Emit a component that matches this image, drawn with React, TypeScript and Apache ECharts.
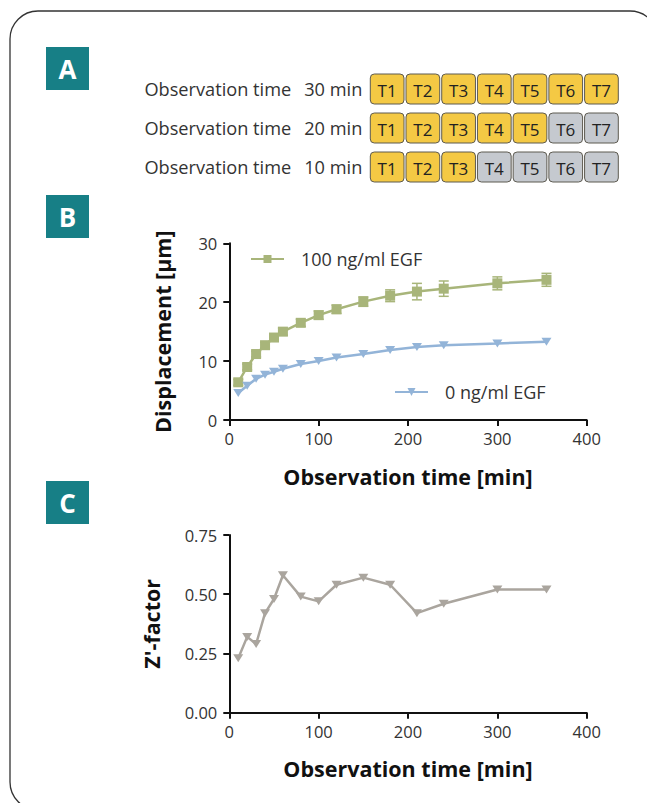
import React, { useEffect, useRef } from "react";
import * as echarts from "echarts";

// Panel A schematic
const boxLabels = ["T1", "T2", "T3", "T4", "T5", "T6", "T7"];
const observationTimes = ["30 min", "20 min", "10 min"];
const imagedBoxes = [7, 5, 3];

// Panel B / C data
const times = [10, 20, 30, 40, 50, 60, 80, 100, 120, 150, 180, 210, 240, 300, 355];
const egf100 = [6.4, 9.0, 11.2, 12.7, 14.0, 15.0, 16.5, 17.8, 18.8, 20.1, 21.1, 21.8, 22.3, 23.2, 23.8];
const egf100Err = [0.5, 0.5, 0.5, 0.5, 0.5, 0.6, 0.6, 0.7, 0.7, 0.8, 1.0, 1.4, 1.3, 1.1, 1.1];
const egf0 = [4.6, 5.8, 7.0, 7.7, 8.2, 8.7, 9.5, 10.0, 10.6, 11.2, 11.9, 12.4, 12.7, 13.0, 13.3];
const zFactor = [0.23, 0.32, 0.29, 0.42, 0.48, 0.58, 0.49, 0.47, 0.54, 0.57, 0.54, 0.42, 0.46, 0.52, 0.52];

const xTicks = [0, 100, 200, 300, 400];
const dispTicks = [0, 10, 20, 30];
const zTicks = [0, 0.25, 0.5, 0.75];

const FONT = "Open Sans";
const GREEN = "#a8b57a";
const BLUE = "#93b4d8";
const GRAY = "#aaa59e";
const TEAL = "#177f86";
const YELLOW = "#f4c944";
const LIGHTGRAY = "#c5c9cf";

export default function App() {
  const ref = useRef<HTMLDivElement>(null);
  useEffect(() => {
    if (!ref.current) return;
    const chart = echarts.init(ref.current, null, { renderer: "svg" });

    const boxData: any[] = [];
    observationTimes.forEach((_, r) => {
      boxLabels.forEach((_, c) => {
        boxData.push([c, r, c < imagedBoxes[r] ? 1 : 0]);
      });
    });

    const axisCommon = {
      axisLine: { show: true, lineStyle: { color: "#111", width: 2 } },
      axisTick: { show: true, length: 6, lineStyle: { color: "#111", width: 2 } },
      splitLine: { show: false },
      axisLabel: { fontFamily: FONT, fontSize: 16.5, color: "#333" },
      nameTextStyle: { fontFamily: FONT, fontSize: 21.5, fontWeight: "bold", color: "#111" },
    };

    const letter = (ch: string, top: number) => ({
      type: "group",
      left: 46,
      top,
      children: [
        { type: "rect", shape: { x: 0, y: 0, width: 43, height: 43 }, style: { fill: TEAL } },
        {
          type: "text",
          x: 21.5,
          y: 22,
          style: { text: ch, fill: "#fff", font: `bold 26px "${FONT}"`, align: "center", verticalAlign: "middle" },
        },
      ],
    });

    const legendText = { fontFamily: FONT, fontSize: 18, color: "#333", padding: [0, 0, 0, 12], lineHeight: 20 };

    const option: any = {
      animation: false,
      backgroundColor: "#fff",
      textStyle: { fontFamily: FONT },
      graphic: [
        {
          type: "rect",
          shape: { x: 10, y: 11, width: 648, height: 799, r: 28 },
          style: { fill: "none", stroke: "#333", lineWidth: 1.3 },
          silent: true,
        },
        letter("A", 47),
        letter("B", 195),
        letter("C", 481),
      ],
      grid: [
        { left: 369.3, top: 69.5, width: 250, height: 117 },
        { left: 229.3, top: 243.3, width: 357.4, height: 176.7 },
        { left: 229.3, top: 535, width: 357.4, height: 177.7 },
      ],
      legend: [
        {
          data: [{ name: "100 ng/ml EGF" }],
          left: 250,
          top: 249,
          padding: 0,
          itemWidth: 33,
          itemHeight: 10,
          textStyle: legendText,
        },
        {
          data: [{ name: "0 ng/ml EGF" }],
          left: 394,
          top: 382,
          padding: 0,
          itemWidth: 33,
          itemHeight: 10,
          textStyle: legendText,
        },
      ],
      xAxis: [
        {
          gridIndex: 0,
          type: "category",
          data: boxLabels,
          show: false,
        },
        {
          ...axisCommon,
          gridIndex: 1,
          type: "value",
          min: xTicks[0],
          max: xTicks[xTicks.length - 1],
          interval: 100,
          axisLabel: { ...axisCommon.axisLabel, margin: 10 },
          name: "Observation time [min]",
          nameLocation: "middle",
          nameGap: 45,
        },
        {
          ...axisCommon,
          gridIndex: 2,
          type: "value",
          min: xTicks[0],
          max: xTicks[xTicks.length - 1],
          interval: 100,
          axisLabel: { ...axisCommon.axisLabel, margin: 10 },
          name: "Observation time [min]",
          nameLocation: "middle",
          nameGap: 45,
        },
      ],
      yAxis: [
        {
          gridIndex: 0,
          type: "category",
          data: observationTimes,
          inverse: true,
          axisLine: { show: false },
          axisTick: { show: false },
          splitLine: { show: false },
          axisLabel: {
            margin: 7,
            formatter: (v: string) => `{a|Observation time}{b|${v}}`,
            rich: {
              a: { fontFamily: FONT, fontSize: 18.2, color: "#333" },
              b: { fontFamily: FONT, fontSize: 18.2, color: "#333", padding: [0, 0, 0, 13] },
            },
          },
        },
        {
          ...axisCommon,
          gridIndex: 1,
          type: "value",
          min: dispTicks[0],
          max: dispTicks[dispTicks.length - 1],
          interval: 10,
          axisLabel: { ...axisCommon.axisLabel, margin: 12 },
          name: "Displacement [µm]",
          nameLocation: "middle",
          nameRotate: 90,
          nameGap: 56,
        },
        {
          ...axisCommon,
          gridIndex: 2,
          type: "value",
          min: zTicks[0],
          max: zTicks[zTicks.length - 1],
          interval: 0.25,
          axisLabel: { ...axisCommon.axisLabel, margin: 12, formatter: (v: number) => v.toFixed(2) },
          name: "Z'-factor",
          nameLocation: "middle",
          nameRotate: 90,
          nameGap: 67,
        },
      ],
      series: [
        {
          type: "custom",
          xAxisIndex: 0,
          yAxisIndex: 0,
          data: boxData,
          encode: { x: 0, y: 1 },
          renderItem: (params: any, api: any) => {
            const c = api.coord([api.value(0), api.value(1)]);
            const sz = api.size([1, 1]);
            const w = sz[0] - 2;
            const h = 30;
            const active = api.value(2) === 1;
            return {
              type: "group",
              children: [
                {
                  type: "rect",
                  shape: { x: c[0] - w / 2, y: c[1] - h / 2, width: w, height: h, r: 4 },
                  style: { fill: active ? YELLOW : LIGHTGRAY, stroke: "#5d5a50", lineWidth: 1 },
                },
                {
                  type: "text",
                  x: c[0],
                  y: c[1] + 1,
                  style: {
                    text: boxLabels[api.value(0)],
                    fill: "#222",
                    font: `17px "${FONT}"`,
                    align: "center",
                    verticalAlign: "middle",
                  },
                },
              ],
            };
          },
        },
        {
          type: "custom",
          name: "err",
          xAxisIndex: 1,
          yAxisIndex: 1,
          data: times.map((t, i) => [t, egf100[i] - egf100Err[i], egf100[i] + egf100Err[i]]),
          encode: { x: 0, y: [1, 2] },
          z: 3,
          renderItem: (params: any, api: any) => {
            const lo = api.coord([api.value(0), api.value(1)]);
            const hi = api.coord([api.value(0), api.value(2)]);
            const cap = 5;
            const st = { stroke: GREEN, lineWidth: 1.5 };
            return {
              type: "group",
              children: [
                { type: "line", shape: { x1: lo[0], y1: lo[1], x2: hi[0], y2: hi[1] }, style: st },
                { type: "line", shape: { x1: lo[0] - cap, y1: lo[1], x2: lo[0] + cap, y2: lo[1] }, style: st },
                { type: "line", shape: { x1: hi[0] - cap, y1: hi[1], x2: hi[0] + cap, y2: hi[1] }, style: st },
              ],
            };
          },
        },
        {
          type: "line",
          name: "100 ng/ml EGF",
          xAxisIndex: 1,
          yAxisIndex: 1,
          data: times.map((t, i) => [t, egf100[i]]),
          symbol: "rect",
          symbolSize: 10,
          lineStyle: { color: GREEN, width: 2.5 },
          itemStyle: { color: GREEN },
          z: 4,
        },
        {
          type: "line",
          name: "0 ng/ml EGF",
          xAxisIndex: 1,
          yAxisIndex: 1,
          data: times.map((t, i) => [t, egf0[i]]),
          symbol: "path://M0,0 L10,0 L5,8 Z",
          symbolSize: [10, 8],
          lineStyle: { color: BLUE, width: 2.5 },
          itemStyle: { color: BLUE },
          z: 4,
        },
        {
          type: "line",
          name: "Z'-factor",
          xAxisIndex: 2,
          yAxisIndex: 2,
          data: times.map((t, i) => [t, zFactor[i]]),
          symbol: "path://M0,0 L10,0 L5,8 Z",
          symbolSize: [10, 8],
          lineStyle: { color: GRAY, width: 2.5 },
          itemStyle: { color: GRAY },
          z: 4,
        },
      ],
    };
    chart.setOption(option);
    return () => chart.dispose();
  }, []);

  return (
    <div
      ref={ref}
      style={{ position: "absolute", left: 0, top: 0, width: 647, height: 803 }}
    />
  );
}
